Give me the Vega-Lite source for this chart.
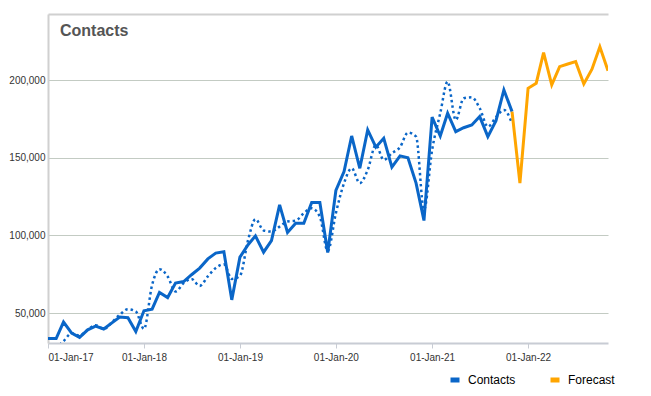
{
  "$schema": "https://vega.github.io/schema/vega-lite/v6.json",
  "width": 560,
  "height": 329,
  "autosize": "none",
  "padding": {"left": 48, "top": 14, "right": 43, "bottom": 53},
  "background": "white",
  "title": {"text": "Contacts", "anchor": "start", "frame": "group", "offset": -38, "dx": 12, "baseline": "alphabetic", "font": "Liberation Sans", "fontSize": 16, "fontWeight": "bold", "color": "#555555"},
  "config": {
    "view": {"stroke": null},
    "axis": {"labelFont": "Liberation Sans", "labelFontSize": 10, "labelColor": "#333333", "titleFont": "Liberation Sans"},
    "legend": {"labelFont": "Liberation Sans", "labelFontSize": 12, "labelColor": "#000000"}
  },
  "data": {"values": [
    {"d": "2017-01-01", "s": "Contacts", "v": 33600},
    {"d": "2017-02-01", "s": "Contacts", "v": 33600},
    {"d": "2017-03-01", "s": "Contacts", "v": 44200},
    {"d": "2017-04-01", "s": "Contacts", "v": 37100},
    {"d": "2017-05-01", "s": "Contacts", "v": 34300},
    {"d": "2017-06-01", "s": "Contacts", "v": 39200},
    {"d": "2017-07-01", "s": "Contacts", "v": 41600},
    {"d": "2017-08-01", "s": "Contacts", "v": 39700},
    {"d": "2017-09-01", "s": "Contacts", "v": 43700},
    {"d": "2017-10-01", "s": "Contacts", "v": 47400},
    {"d": "2017-11-01", "s": "Contacts", "v": 47000},
    {"d": "2017-12-01", "s": "Contacts", "v": 38100},
    {"d": "2018-01-01", "s": "Contacts", "v": 51500},
    {"d": "2018-02-01", "s": "Contacts", "v": 52500},
    {"d": "2018-03-01", "s": "Contacts", "v": 63300},
    {"d": "2018-04-01", "s": "Contacts", "v": 60000},
    {"d": "2018-05-01", "s": "Contacts", "v": 69300},
    {"d": "2018-06-01", "s": "Contacts", "v": 70300},
    {"d": "2018-07-01", "s": "Contacts", "v": 74700},
    {"d": "2018-08-01", "s": "Contacts", "v": 79000},
    {"d": "2018-09-01", "s": "Contacts", "v": 84900},
    {"d": "2018-10-01", "s": "Contacts", "v": 88600},
    {"d": "2018-11-01", "s": "Contacts", "v": 89500},
    {"d": "2018-12-01", "s": "Contacts", "v": 58500},
    {"d": "2019-01-01", "s": "Contacts", "v": 86000},
    {"d": "2019-02-01", "s": "Contacts", "v": 94000},
    {"d": "2019-03-01", "s": "Contacts", "v": 99700},
    {"d": "2019-04-01", "s": "Contacts", "v": 89200},
    {"d": "2019-05-01", "s": "Contacts", "v": 96700},
    {"d": "2019-06-01", "s": "Contacts", "v": 119700},
    {"d": "2019-07-01", "s": "Contacts", "v": 101900},
    {"d": "2019-08-01", "s": "Contacts", "v": 107900},
    {"d": "2019-09-01", "s": "Contacts", "v": 107900},
    {"d": "2019-10-01", "s": "Contacts", "v": 121200},
    {"d": "2019-11-01", "s": "Contacts", "v": 121200},
    {"d": "2019-12-01", "s": "Contacts", "v": 89000},
    {"d": "2020-01-01", "s": "Contacts", "v": 129000},
    {"d": "2020-02-01", "s": "Contacts", "v": 141200},
    {"d": "2020-03-01", "s": "Contacts", "v": 164100},
    {"d": "2020-04-01", "s": "Contacts", "v": 143300},
    {"d": "2020-05-01", "s": "Contacts", "v": 168000},
    {"d": "2020-06-01", "s": "Contacts", "v": 156900},
    {"d": "2020-07-01", "s": "Contacts", "v": 162600},
    {"d": "2020-08-01", "s": "Contacts", "v": 144000},
    {"d": "2020-09-01", "s": "Contacts", "v": 151300},
    {"d": "2020-10-01", "s": "Contacts", "v": 150000},
    {"d": "2020-11-01", "s": "Contacts", "v": 133700},
    {"d": "2020-12-01", "s": "Contacts", "v": 109600},
    {"d": "2021-01-01", "s": "Contacts", "v": 176200},
    {"d": "2021-02-01", "s": "Contacts", "v": 164100},
    {"d": "2021-03-01", "s": "Contacts", "v": 178800},
    {"d": "2021-04-01", "s": "Contacts", "v": 166900},
    {"d": "2021-05-01", "s": "Contacts", "v": 169400},
    {"d": "2021-06-01", "s": "Contacts", "v": 171200},
    {"d": "2021-07-01", "s": "Contacts", "v": 176600},
    {"d": "2021-08-01", "s": "Contacts", "v": 163700},
    {"d": "2021-09-01", "s": "Contacts", "v": 174000},
    {"d": "2021-10-01", "s": "Contacts", "v": 193800},
    {"d": "2021-11-01", "s": "Contacts", "v": 179800},
    {"d": "2021-11-01", "s": "Forecast", "v": 179800},
    {"d": "2021-12-01", "s": "Forecast", "v": 133700},
    {"d": "2022-01-01", "s": "Forecast", "v": 194800},
    {"d": "2022-02-01", "s": "Forecast", "v": 198100},
    {"d": "2022-03-01", "s": "Forecast", "v": 217800},
    {"d": "2022-04-01", "s": "Forecast", "v": 197000},
    {"d": "2022-05-01", "s": "Forecast", "v": 208800},
    {"d": "2022-06-01", "s": "Forecast", "v": 210500},
    {"d": "2022-07-01", "s": "Forecast", "v": 212000},
    {"d": "2022-08-01", "s": "Forecast", "v": 197600},
    {"d": "2022-09-01", "s": "Forecast", "v": 207100},
    {"d": "2022-10-01", "s": "Forecast", "v": 221600},
    {"d": "2022-11-01", "s": "Forecast", "v": 206200},
    {"d": "2017-01-01", "s": "Model", "v": 22000},
    {"d": "2017-02-01", "s": "Model", "v": 27500},
    {"d": "2017-03-01", "s": "Model", "v": 31800},
    {"d": "2017-04-01", "s": "Model", "v": 37000},
    {"d": "2017-05-01", "s": "Model", "v": 35500},
    {"d": "2017-06-01", "s": "Model", "v": 39200},
    {"d": "2017-07-01", "s": "Model", "v": 42200},
    {"d": "2017-08-01", "s": "Model", "v": 39700},
    {"d": "2017-09-01", "s": "Model", "v": 44000},
    {"d": "2017-10-01", "s": "Model", "v": 48900},
    {"d": "2017-11-01", "s": "Model", "v": 52500},
    {"d": "2017-12-01", "s": "Model", "v": 51000},
    {"d": "2018-01-01", "s": "Model", "v": 39700},
    {"d": "2018-02-01", "s": "Model", "v": 68200},
    {"d": "2018-03-01", "s": "Model", "v": 78300},
    {"d": "2018-04-01", "s": "Model", "v": 73600},
    {"d": "2018-05-01", "s": "Model", "v": 63900},
    {"d": "2018-06-01", "s": "Model", "v": 69300},
    {"d": "2018-07-01", "s": "Model", "v": 72000},
    {"d": "2018-08-01", "s": "Model", "v": 67500},
    {"d": "2018-09-01", "s": "Model", "v": 73600},
    {"d": "2018-10-01", "s": "Model", "v": 79000},
    {"d": "2018-11-01", "s": "Model", "v": 81500},
    {"d": "2018-12-01", "s": "Model", "v": 72000},
    {"d": "2019-01-01", "s": "Model", "v": 74000},
    {"d": "2019-02-01", "s": "Model", "v": 97000},
    {"d": "2019-03-01", "s": "Model", "v": 110500},
    {"d": "2019-04-01", "s": "Model", "v": 103200},
    {"d": "2019-05-01", "s": "Model", "v": 102500},
    {"d": "2019-06-01", "s": "Model", "v": 105700},
    {"d": "2019-07-01", "s": "Model", "v": 109000},
    {"d": "2019-08-01", "s": "Model", "v": 109500},
    {"d": "2019-09-01", "s": "Model", "v": 114400},
    {"d": "2019-10-01", "s": "Model", "v": 117600},
    {"d": "2019-11-01", "s": "Model", "v": 112000},
    {"d": "2019-12-01", "s": "Model", "v": 90000},
    {"d": "2020-01-01", "s": "Model", "v": 114400},
    {"d": "2020-02-01", "s": "Model", "v": 133700},
    {"d": "2020-03-01", "s": "Model", "v": 143300},
    {"d": "2020-04-01", "s": "Model", "v": 133700},
    {"d": "2020-05-01", "s": "Model", "v": 142200},
    {"d": "2020-06-01", "s": "Model", "v": 158300},
    {"d": "2020-07-01", "s": "Model", "v": 148700},
    {"d": "2020-08-01", "s": "Model", "v": 153000},
    {"d": "2020-09-01", "s": "Model", "v": 156900},
    {"d": "2020-10-01", "s": "Model", "v": 166300},
    {"d": "2020-11-01", "s": "Model", "v": 163700},
    {"d": "2020-12-01", "s": "Model", "v": 116500},
    {"d": "2021-01-01", "s": "Model", "v": 155100},
    {"d": "2021-02-01", "s": "Model", "v": 178800},
    {"d": "2021-03-01", "s": "Model", "v": 199100},
    {"d": "2021-04-01", "s": "Model", "v": 174400},
    {"d": "2021-05-01", "s": "Model", "v": 188400},
    {"d": "2021-06-01", "s": "Model", "v": 189000},
    {"d": "2021-07-01", "s": "Model", "v": 182000},
    {"d": "2021-08-01", "s": "Model", "v": 170100},
    {"d": "2021-09-01", "s": "Model", "v": 176200},
    {"d": "2021-10-01", "s": "Model", "v": 180900},
    {"d": "2021-11-01", "s": "Model", "v": 172300}
  ]},
  "layer": [
    {
      "transform": [{"filter": "datum.s === 'Model'"}],
      "mark": {"type": "line", "clip": true, "interpolate": "monotone", "color": "#0a66c8", "strokeWidth": 2.5, "strokeDash": [2.5, 3]},
      "encoding": {
        "x": {"field": "d", "type": "temporal", "scale": {"type": "utc", "domain": ["2017-01-01", "2022-11-01"]},
              "axis": {"orient": "top", "labels": false, "ticks": false, "grid": false, "title": null, "domainColor": "#d0d0d0", "domainWidth": 2}},
        "y": {"field": "v", "type": "quantitative", "scale": {"domain": [30700, 242700], "nice": false, "zero": false},
              "axis": {"values": [50000, 100000, 150000, 200000], "format": ",.0f", "title": null, "ticks": false, "labelPadding": 3,
                       "grid": true, "gridColor": "#c3cbc3", "gridWidth": 1, "domainColor": "#d0d0d0", "domainWidth": 2}}
      }
    },
    {
      "transform": [{"filter": "datum.s !== 'Model'"}],
      "mark": {"type": "line", "clip": true, "strokeWidth": 3, "strokeJoin": "miter"},
      "encoding": {
        "x": {"field": "d", "type": "temporal",
              "axis": {"orient": "bottom", "format": "%d-%b-%y", "tickCount": {"interval": "year", "step": 1}, "title": null, "grid": false,
                       "tickColor": "#c8ccd4", "tickSize": 5, "labelPadding": 4, "domainColor": "#c8ccd4", "domainWidth": 2}},
        "y": {"field": "v", "type": "quantitative"},
        "color": {"field": "s", "type": "nominal", "scale": {"domain": ["Contacts", "Forecast"], "range": ["#0a66c8", "#ffa500"]},
                  "legend": {"title": null, "orient": "none", "direction": "horizontal", "legendX": 400, "legendY": 359,
                             "symbolType": "M-1,0H1", "symbolSize": 81, "symbolStrokeWidth": 5, "labelOffset": 6, "columnPadding": 24, "padding": 0}}
      }
    }
  ],
  "resolve": {"axis": {"x": "independent"}}
}
